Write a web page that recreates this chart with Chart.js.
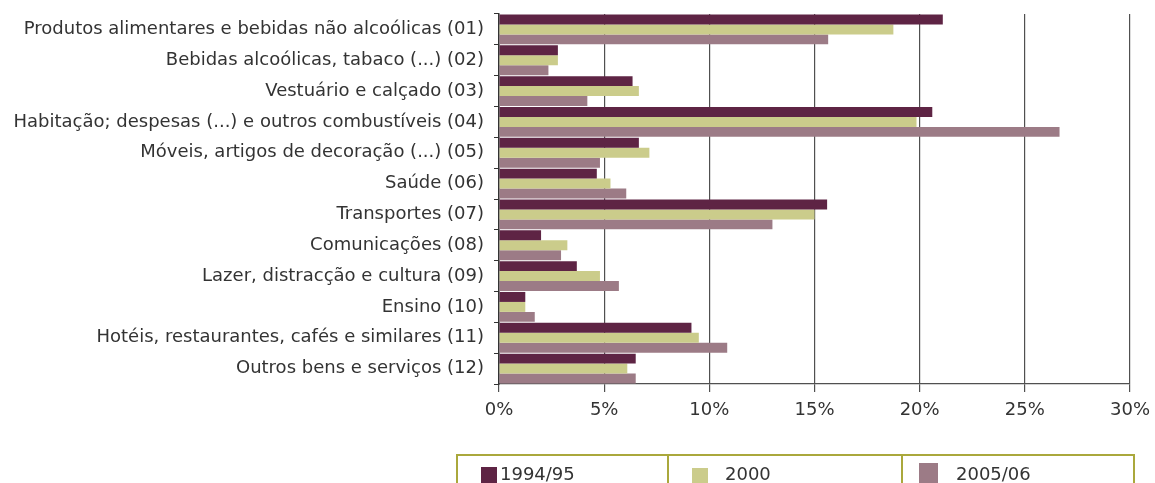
<!DOCTYPE html>
<html>
<head>
<meta charset="utf-8">
<script src="https://cdn.jsdelivr.net/npm/chart.js@4/dist/chart.umd.min.js"></script>
<style>
  html, body { margin: 0; padding: 0; background: #fff; }
  #wrap { width: 1155px; height: 483px; position: relative; }
</style>
</head>
<body>
<div id="wrap"><canvas id="myChart"></canvas></div>
<script>
// categories (COICOP divisions)
const categories = [
  'Produtos alimentares e bebidas não alcoólicas (01)',
  'Bebidas alcoólicas, tabaco (...) (02)',
  'Vestuário e calçado (03)',
  'Habitação; despesas (...) e outros combustíveis (04)',
  'Móveis, artigos de decoração (...) (05)',
  'Saúde (06)',
  'Transportes (07)',
  'Comunicações (08)',
  'Lazer, distracção e cultura (09)',
  'Ensino (10)',
  'Hotéis, restaurantes, cafés e similares (11)',
  'Outros bens e serviços (12)'
];

const seriesNames = ['1994/95', '2000', '2005/06'];

// share of expenditure, %
const values9495 = [21.1, 2.8, 6.35, 20.6, 6.65, 4.65, 15.6, 2.0, 3.7, 1.25, 9.15, 6.5];
const values2000 = [18.75, 2.8, 6.65, 19.85, 7.15, 5.3, 15.0, 3.25, 4.8, 1.25, 9.5, 6.1];
const values0506 = [15.65, 2.35, 4.2, 26.65, 4.8, 6.05, 13.0, 2.95, 5.7, 1.7, 10.85, 6.5];

const xTicks = [0, 5, 10, 15, 20, 25, 30];

const colors = ['#5e2444', '#cbcc8b', '#9c7b86'];
const textColor = '#333333';
const fontFamily = '"DejaVu Sans", sans-serif';

// legend boxed in three cells under the chart
const boxLegend = {
  id: 'boxLegend',
  afterDraw(chart) {
    const ctx = chart.ctx;
    ctx.save();
    ctx.strokeStyle = '#aaa83c';
    ctx.lineWidth = 2;
    ctx.beginPath();
    ctx.moveTo(457, 490); ctx.lineTo(457, 455); ctx.lineTo(1134, 455); ctx.lineTo(1134, 490);
    ctx.moveTo(668, 455); ctx.lineTo(668, 490);
    ctx.moveTo(902, 455); ctx.lineTo(902, 490);
    ctx.stroke();

    const cells = [
      { sx: 481, sy: 467, sw: 16, sh: 17, tx: 500 },
      { sx: 692, sy: 468, sw: 16, sh: 16, tx: 725 },
      { sx: 919, sy: 463, sw: 19, sh: 21, tx: 956 }
    ];
    ctx.font = '18px ' + fontFamily;
    ctx.textBaseline = 'middle';
    ctx.fillStyle = textColor;
    chart.data.datasets.forEach((ds, i) => {
      const c = cells[i];
      ctx.fillStyle = ds.backgroundColor;
      ctx.fillRect(c.sx, c.sy, c.sw, c.sh);
      ctx.fillStyle = textColor;
      ctx.fillText(ds.label, c.tx, 475);
    });
    ctx.restore();
  }
};

new Chart(document.getElementById('myChart'), {
  type: 'bar',
  data: {
    labels: categories,
    datasets: [
      { label: seriesNames[0], data: values9495, backgroundColor: colors[0] },
      { label: seriesNames[1], data: values2000, backgroundColor: colors[1] },
      { label: seriesNames[2], data: values0506, backgroundColor: colors[2] }
    ]
  },
  options: {
    indexAxis: 'y',
    responsive: true,
    maintainAspectRatio: false,
    animation: false,
    datasets: {
      bar: { barPercentage: 1.0, categoryPercentage: 0.97 }
    },
    layout: { padding: { top: 14, right: 25, bottom: 0, left: 0 } },
    plugins: {
      legend: { display: false },
      tooltip: { enabled: false }
    },
    scales: {
      x: {
        min: 0,
        max: 30,
        afterBuildTicks(scale) {
          scale.ticks = xTicks.map(v => ({ value: v }));
        },
        afterFit(scale) {
          scale.height = 99;
          scale.paddingLeft = 0;
          scale.paddingRight = 0;
        },
        grid: { color: '#505050', lineWidth: 1.2, tickLength: 8 },
        border: { color: '#505050', width: 1.2 },
        ticks: {
          color: textColor,
          padding: 8,
          font: { family: fontFamily, size: 18 },
          callback: v => v + '%'
        }
      },
      y: {
        afterFit(scale) {
          scale.width = 499;
          scale.paddingTop = 0;
          scale.paddingBottom = 0;
        },
        grid: { drawOnChartArea: false, tickLength: 5, color: '#333333' },
        border: { color: '#333333', width: 1.5 },
        ticks: {
          color: textColor,
          padding: 10,
          autoSkip: false,
          font: { family: fontFamily, size: 18 }
        }
      }
    }
  },
  plugins: [boxLegend]
});
</script>
</body>
</html>
